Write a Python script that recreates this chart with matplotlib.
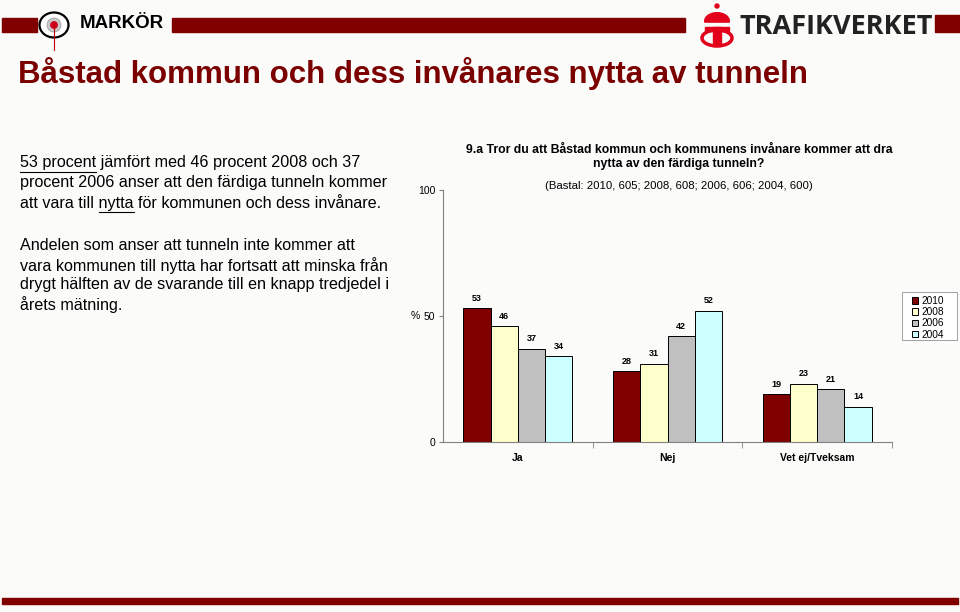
import numpy as np
import matplotlib.pyplot as plt
from matplotlib.patches import Rectangle, Circle, Ellipse

plt.rcParams['font.family'] = ['Liberation Sans', 'DejaVu Sans']

# Data
kategorier = ["Ja", "Nej", "Vet ej/Tveksam"]
ar = ["2010", "2008", "2006", "2004"]
varden = {
    "2010": [53, 28, 19],
    "2008": [46, 31, 23],
    "2006": [37, 42, 21],
    "2004": [34, 52, 14],
}
farger = {"2010": "#800000", "2008": "#FFFFCC", "2006": "#C0C0C0", "2004": "#CCFFFF"}
yticks = [0, 50, 100]

rubrik = "Båstad kommun och dess invånares nytta av tunneln"
fraga = "9.a Tror du att Båstad kommun och kommunens invånare kommer att dra\nnytta av den färdiga tunneln?"
bastal = "(Bastal: 2010, 605; 2008, 608; 2006, 606; 2004, 600)"
text1 = ["53 procent jämfört med 46 procent 2008 och 37",
         "procent 2006 anser att den färdiga tunneln kommer",
         "att vara till nytta för kommunen och dess invånare."]
text2 = ["Andelen som anser att tunneln inte kommer att",
         "vara kommunen till nytta har fortsatt att minska från",
         "drygt hälften av de svarande till en knapp tredjedel i",
         "årets mätning."]

W, H = 960, 612
bg = "#FBFBFA"
red = "#800000"
fig = plt.figure(figsize=(9.6, 6.12), dpi=100, facecolor=bg)

# Overlay in pixel coordinates for slide decoration
deco = fig.add_axes([0, 0, 1, 1], zorder=0)
deco.set_xlim(0, W)
deco.set_ylim(H, 0)
deco.axis("off")
deco.set_facecolor(bg)

# header bars
deco.add_patch(Rectangle((2, 18), 35, 14, color=red))
deco.add_patch(Rectangle((172, 18), 513, 14, color=red))
deco.add_patch(Rectangle((935, 15), 25, 17, color=red))
# marker logo
deco.plot([54, 54], [25, 50], color="#C00000", lw=0.8)
deco.add_patch(Ellipse((54, 25), 29, 25, facecolor="white", edgecolor="black", lw=1.6))
deco.add_patch(Circle((54, 25), 7, facecolor="#C8C8C8", edgecolor="#999999", lw=0.5))
deco.add_patch(Circle((54, 25), 3.2, color="#D0001C"))
deco.text(80, 24, "MARKÖR", fontsize=13.5, fontweight="bold", va="center", ha="left", color="black")
# trafikverket logo (simplified crown + T)
deco.add_patch(Ellipse((717, 21), 26, 18, facecolor="#E2001A", edgecolor="none"))
deco.add_patch(Rectangle((703, 23), 28, 4, color=bg))
deco.add_patch(Rectangle((705, 27), 24, 4, color="#E2001A"))
deco.add_patch(Rectangle((713, 27), 8, 18, color="#E2001A"))
deco.add_patch(Ellipse((717, 38), 30, 16, facecolor="none", edgecolor="#E2001A", lw=2.5))
deco.add_patch(Circle((717, 6), 2, color="#E2001A"))
deco.text(740, 27, "TRAFIKVERKET", fontsize=19.5, fontfamily="Open Sans", fontweight="bold",
          va="center", ha="left", color="#222222")
# bottom bar
deco.add_patch(Rectangle((2, 598), 956, 6, color=red))

# title
deco.text(18, 74, rubrik, fontsize=22.5, fontweight="bold", color="#7B0000", va="center", ha="left")

# left text
fs = 11.6
for i, line in enumerate(text1):
    deco.text(20, 163 + i * 20, line, fontsize=fs, va="center", ha="left", color="black")
for i, line in enumerate(text2):
    deco.text(20, 246 + i * 19.5, line, fontsize=fs, va="center", ha="left", color="black")

# underlines under "53 procent" and "nytta"
renderer = fig.canvas.get_renderer()


def width_px(s):
    t = deco.text(0, 0, s, fontsize=fs)
    w = t.get_window_extent(renderer).width
    t.remove()
    return w


u1 = width_px("53 procent")
deco.plot([20, 20 + u1], [171.5, 171.5], color="black", lw=0.8)
off = width_px("att vara till ")
u2 = width_px("nytta")
deco.plot([20 + off, 20 + off + u2], [211.5, 211.5], color="black", lw=0.8)

# chart texts
deco.text(679, 157, fraga, fontsize=8.8, fontweight="bold", ha="center", va="center",
          linespacing=1.2, color="black")
deco.text(679, 186, bastal, fontsize=8.2, ha="center", va="center", color="black")

# Bar chart
ax = fig.add_axes([443 / W, 1 - 442 / H, 449 / W, 252 / H], zorder=1)
ax.patch.set_alpha(0)
x = np.arange(len(kategorier))
bw = 0.182
for j, a in enumerate(ar):
    pos = x + (j - 1.5) * bw
    bars = ax.bar(pos, varden[a], width=bw, color=farger[a], edgecolor="black", lw=0.7, label=a)
    for b, v in zip(bars, varden[a]):
        ax.annotate(str(v), (b.get_x() + b.get_width() / 2, v), xytext=(0, 4),
                    textcoords="offset points", ha="center", va="bottom",
                    fontsize=6.5, fontweight="bold")

ax.set_xlim(-0.5, len(kategorier) - 0.5)
ax.set_ylim(0, 100)
ax.set_yticks(yticks)
ax.set_yticklabels([str(v) for v in yticks], fontsize=7.5)
ax.set_xticks(x)
ax.set_xticklabels(kategorier, fontsize=7.5, fontweight="bold")
ax.set_xticks(np.arange(len(kategorier)) + 0.5, minor=True)
ax.tick_params(axis="x", which="major", length=0, pad=8)
ax.tick_params(axis="x", which="minor", length=4, color="#808080", direction="out")
ax.tick_params(axis="y", length=3, color="#808080", pad=2.5)
for s in ["top", "right"]:
    ax.spines[s].set_visible(False)
for s in ["left", "bottom"]:
    ax.spines[s].set_color("#808080")
    ax.spines[s].set_linewidth(0.8)
ax.text(-0.062, 0.5, "%", transform=ax.transAxes, fontsize=7.5, ha="center", va="center")

# legend with its own frame
deco.add_patch(Rectangle((902, 292), 55, 48, facecolor="white", edgecolor="#A0A0A0", lw=0.7, zorder=2))
leg = fig.legend(loc="upper left", bbox_to_anchor=(910 / W, 1 - 294 / H), fontsize=7.3,
                 frameon=False, handlelength=0.6, handleheight=0.6,
                 handletextpad=0.35, borderpad=0.2, labelspacing=0.12, borderaxespad=0)
leg.set_zorder(3)

fig.savefig("out.png", dpi=100, facecolor=bg)
